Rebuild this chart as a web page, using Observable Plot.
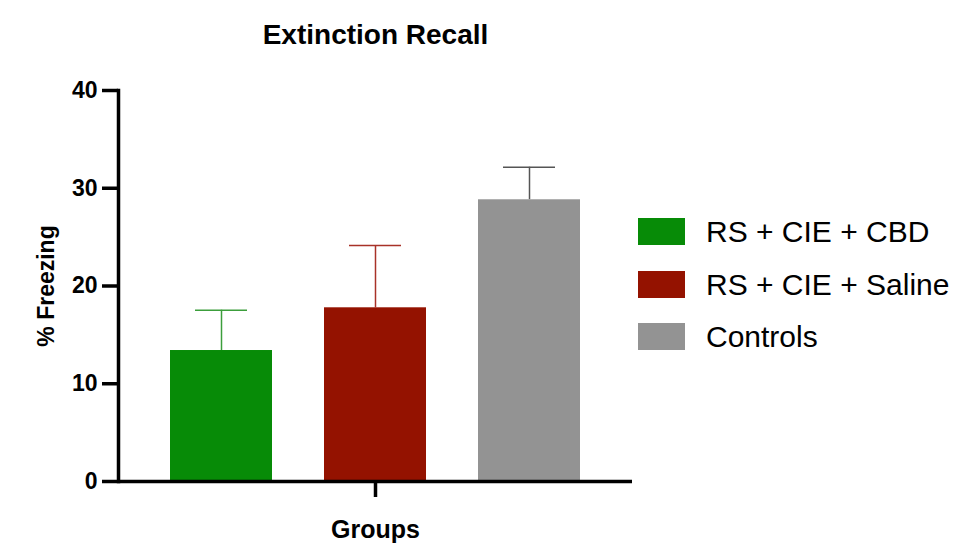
<!DOCTYPE html>
<html><head><meta charset="utf-8">
<script src="https://cdn.jsdelivr.net/npm/d3@7"></script>
<script src="https://cdn.jsdelivr.net/npm/@observablehq/plot@0.6"></script>
<style>
body{margin:0;background:#fff;font-family:"Liberation Sans",Arial,sans-serif;}
#wrap{position:relative;width:954px;height:543px;overflow:hidden;background:#fff;}
#title{position:absolute;left:0;top:21px;width:751px;text-align:center;font-weight:bold;font-size:28px;line-height:28px;color:#000;}
#chart{position:absolute;left:0;top:60px;}
#legend{position:absolute;left:638px;top:218px;}
.item{display:flex;align-items:center;height:27px;margin-bottom:25.5px;}
.sw{width:47px;height:27px;margin-right:21px;}
.lab{font-size:30px;line-height:27px;color:#000;white-space:nowrap;}
</style></head><body>
<div id="wrap"><div id="title">Extinction Recall</div><div id="chart"></div><div id="legend"></div></div>
<script>
const groups = ["RS + CIE + CBD", "RS + CIE + Saline", "Controls"];
const means = [13.4, 17.77, 28.82];
const sems = [4.12, 6.37, 3.33];
const barColors = ["#078b07", "#941200", "#939393"];
const errColors = ["#3c9e3c", "#a83228", "#555555"];
const yTicks = [0, 10, 20, 30, 40];

const data = groups.map((g, i) => ({
  group: g, mean: means[i], top: means[i] + sems[i],
  barColor: barColors[i], errColor: errColors[i]
}));

const chart = Plot.plot({
  width: 954, height: 483,
  marginTop: 30, marginBottom: 62, marginLeft: 118, marginRight: 322,
  style: {fontFamily: "'Liberation Sans', Arial, sans-serif", color: "#000", background: "transparent"},
  x: {domain: groups, padding: 0.335, axis: null},
  y: {domain: [0, 40], axis: null},
  marks: [
    Plot.ruleX(data, {x: "group", y1: "mean", y2: "top", stroke: "errColor", strokeWidth: 1.5}),
    Plot.tickY(data, {x: "group", y: "top", stroke: "errColor", strokeWidth: 1.5, insetLeft: 25, insetRight: 25}),
    Plot.barY(data, {x: "group", y: "mean", fill: "barColor"}),
    Plot.axisY({ticks: yTicks, tickSize: 16, tickPadding: 5, strokeWidth: 3.5, fontSize: 23, fontWeight: "bold",
      label: "% Freezing", labelAnchor: "center", labelOffset: 81, labelArrow: "none"}),
    Plot.axisX({ticks: [groups[1]], tickFormat: () => "", tickSize: 16, strokeWidth: 3.5, fontSize: 25, fontWeight: "bold",
      label: "Groups", labelAnchor: "center", labelOffset: 56, labelArrow: "none"}),
    Plot.frame({anchor: "left", strokeWidth: 3.5}),
    Plot.ruleY([0], {strokeWidth: 3.5})
  ]
});
document.getElementById("chart").appendChild(chart);

const legend = document.getElementById("legend");
groups.forEach((g, i) => {
  const item = document.createElement("div");
  item.className = "item";
  const sw = document.createElement("div");
  sw.className = "sw";
  sw.style.background = barColors[i];
  const lab = document.createElement("div");
  lab.className = "lab";
  lab.textContent = g;
  item.appendChild(sw); item.appendChild(lab);
  legend.appendChild(item);
});
</script>
</body></html>
